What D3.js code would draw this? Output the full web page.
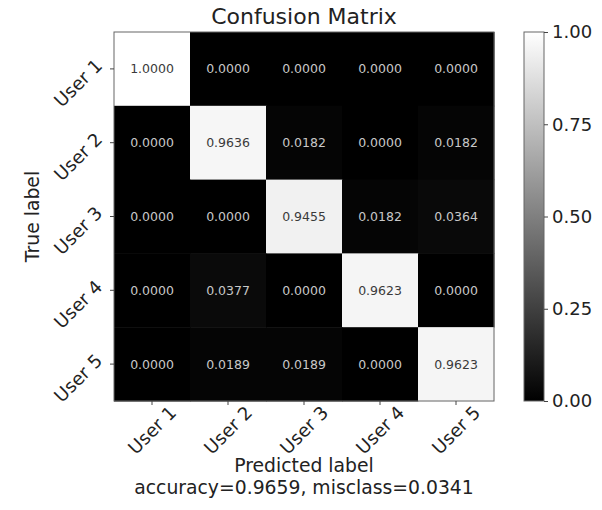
<!DOCTYPE html>
<html><head><meta charset="utf-8">
<script src="https://cdn.jsdelivr.net/npm/d3@7"></script>
<style>body{margin:0;background:#fff}text{font-family:"DejaVu Sans",sans-serif}</style>
</head><body><svg id="c" width="602" height="510"></svg>
<script>
const predictedLabels = ["User 1","User 2","User 3","User 4","User 5"];
const trueLabels = ["User 1","User 2","User 3","User 4","User 5"];
const row1 = [1.0000,0.0000,0.0000,0.0000,0.0000];
const row2 = [0.0000,0.9636,0.0182,0.0000,0.0182];
const row3 = [0.0000,0.0000,0.9455,0.0182,0.0364];
const row4 = [0.0000,0.0377,0.0000,0.9623,0.0000];
const row5 = [0.0000,0.0189,0.0189,0.0000,0.9623];
const matrix = [row1,row2,row3,row4,row5];
const colorbarTicks = [0,0.25,0.5,0.75,1];
const titleText = "Confusion Matrix";
const xLabel = "Predicted label";
const yLabel = "True label";
const accText = "accuracy=0.9659, misclass=0.0341";

const svg = d3.select("#c");
const L=114,R=494,T=32,B=401;
const x = d3.scaleBand().domain(predictedLabels).range([L,R]);
const y = d3.scaleBand().domain(trueLabels).range([T,B]);
const grey = v => { const c=Math.round(v*255); return `rgb(${c},${c},${c})`; };

const cells=[];
matrix.forEach((r,i)=>r.forEach((v,j)=>cells.push({i,j,v})));
svg.append("g").selectAll("rect").data(cells).join("rect")
  .attr("x",d=>x(predictedLabels[d.j])).attr("y",d=>y(trueLabels[d.i]))
  .attr("width",x.bandwidth()+0.5).attr("height",y.bandwidth()+0.5)
  .attr("fill",d=>grey(d.v));
svg.append("g").selectAll("text").data(cells).join("text")
  .attr("x",d=>x(predictedLabels[d.j])+x.bandwidth()/2)
  .attr("y",d=>y(trueLabels[d.i])+y.bandwidth()/2)
  .attr("text-anchor","middle").attr("dominant-baseline","central")
  .attr("font-size",12.5)
  .attr("fill",d=>d.v>0.5?"#3a3a3a":"#c8c8c8")
  .text(d=>d.v.toFixed(4));
svg.append("rect").attr("x",L).attr("y",T).attr("width",R-L).attr("height",B-T)
  .attr("fill","none").attr("stroke","#666").attr("stroke-width",1);

const tickCol="#444";
svg.append("g").selectAll("line").data(predictedLabels).join("line")
  .attr("x1",d=>x(d)+x.bandwidth()/2).attr("x2",d=>x(d)+x.bandwidth()/2)
  .attr("y1",B).attr("y2",B+4).attr("stroke",tickCol);
svg.append("g").selectAll("line").data(trueLabels).join("line")
  .attr("y1",d=>y(d)+y.bandwidth()/2).attr("y2",d=>y(d)+y.bandwidth()/2)
  .attr("x1",L-4).attr("x2",L).attr("stroke",tickCol);

const fs=18.8;
svg.append("g").selectAll("text").data(predictedLabels).join("text")
  .attr("transform",d=>`translate(${x(d)+x.bandwidth()/2},${B+29}) rotate(-45)`)
  .attr("text-anchor","middle").attr("dominant-baseline","central")
  .attr("font-size",18.2).attr("fill","#222").text(d=>d);
svg.append("g").selectAll("text").data(trueLabels).join("text")
  .attr("transform",d=>`translate(${L-36},${y(d)+y.bandwidth()/2+14}) rotate(-45)`)
  .attr("text-anchor","middle").attr("dominant-baseline","central")
  .attr("font-size",18.2).attr("fill","#222").text(d=>d);

svg.append("text").attr("x",(L+R)/2).attr("y",24).attr("text-anchor","middle")
  .attr("font-size",22).attr("fill","#222").text(titleText);
svg.append("text").attr("transform",`translate(39,${(T+B)/2}) rotate(-90)`)
  .attr("text-anchor","middle").attr("font-size",fs).attr("fill","#222").text(yLabel);
svg.append("text").attr("x",(L+R)/2).attr("y",472).attr("text-anchor","middle")
  .attr("font-size",fs).attr("fill","#222").text(xLabel);
svg.append("text").attr("x",(L+R)/2).attr("y",494).attr("text-anchor","middle")
  .attr("font-size",fs).attr("fill","#222").text(accText);

const cbL=524,cbW=20;
const cy = d3.scaleLinear().domain([0,1]).range([B,T]);
const grad=svg.append("defs").append("linearGradient").attr("id","g").attr("x1",0).attr("y1",1).attr("x2",0).attr("y2",0);
grad.append("stop").attr("offset","0%").attr("stop-color",grey(0));
grad.append("stop").attr("offset","100%").attr("stop-color",grey(1));
svg.append("rect").attr("x",cbL).attr("y",cy(1)).attr("width",cbW).attr("height",cy(0)-cy(1))
  .attr("fill","url(#g)").attr("stroke","#666");
const ax = svg.append("g").attr("transform",`translate(${cbL+cbW},0)`)
  .call(d3.axisRight(cy).tickValues(colorbarTicks).tickFormat(d3.format(".2f")).tickSize(4).tickPadding(4));
ax.select(".domain").remove();
ax.selectAll("line").attr("stroke",tickCol);
ax.selectAll("text").attr("font-size",18).attr("fill","#222").attr("font-family","DejaVu Sans");
</script></body></html>
